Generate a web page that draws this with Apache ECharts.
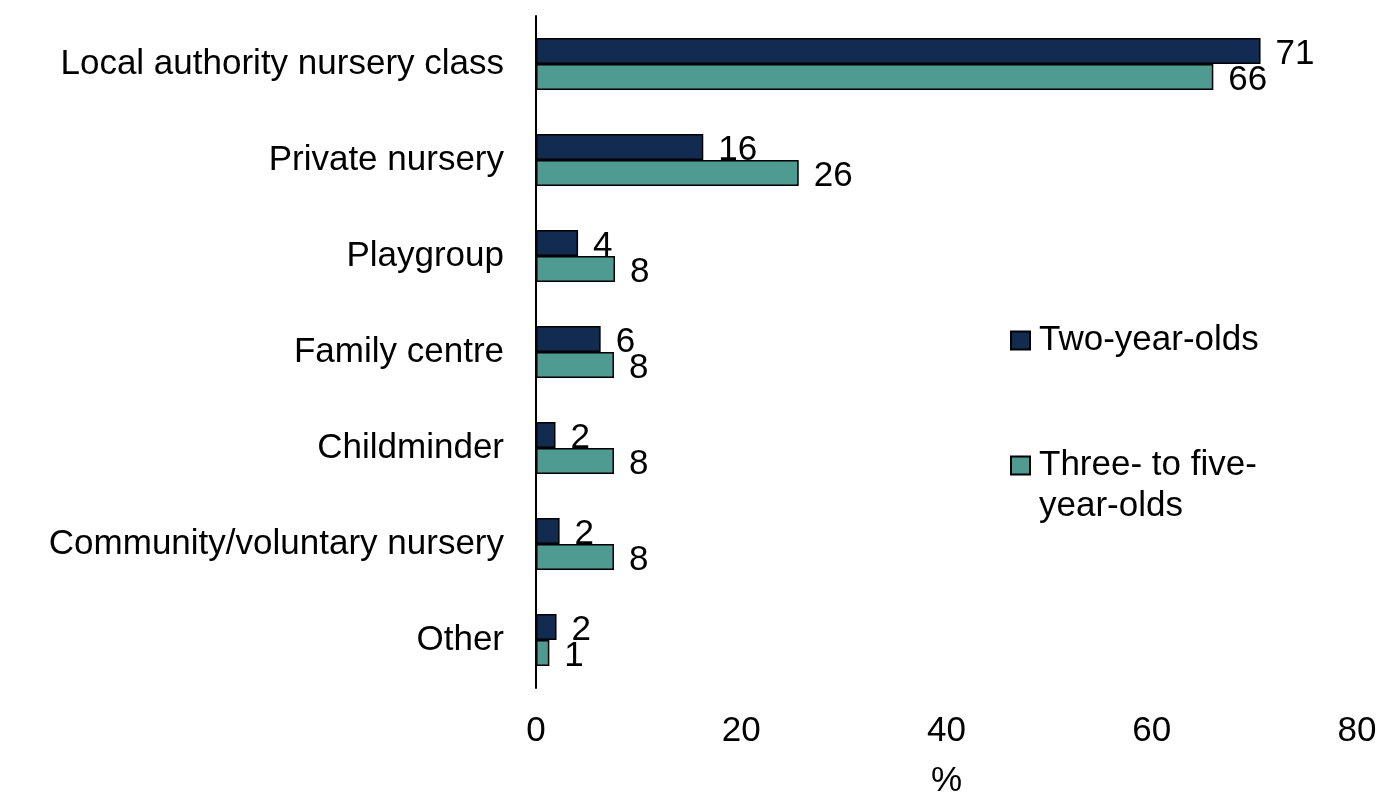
<!DOCTYPE html>
<html>
<head>
<meta charset="utf-8">
<script src="https://cdn.jsdelivr.net/npm/echarts@6/dist/echarts.min.js"></script>
<style>
html,body{margin:0;padding:0;background:#fff;}
#chart{width:1394px;height:812px;}
</style>
</head>
<body>
<div id="chart"></div>
<script>
var categories = ['Local authority nursery class','Private nursery','Playgroup','Family centre','Childminder','Community/voluntary nursery','Other'];
var twoYearOlds = [70.6, 16.3, 4.1, 6.3, 1.9, 2.3, 2.0];
var threeToFive = [66.0, 25.6, 7.7, 7.6, 7.6, 7.6, 1.3];
var seriesNames = ['Two-year-olds','Three- to five-year-olds'];
var xTicks = [0, 20, 40, 60, 80];

var FONT = '"Liberation Sans", Arial, sans-serif';
var FS = 35;

var chart = echarts.init(document.getElementById('chart'));
chart.setOption({
  animation: false,
  backgroundColor: '#ffffff',
  textStyle: {fontFamily: FONT},
  grid: {left: 536, right: 37, top: 16, bottom: 124, containLabel: false},
  legend: {
    orient: 'vertical',
    left: 1010,
    top: 320,
    padding: 0,
    itemWidth: 19,
    itemHeight: 18,
    itemGap: 43,
    icon: 'rect',
    textStyle: {fontFamily: FONT, fontSize: FS, color: '#000', lineHeight: 41, padding: [0,0,0,4]},
    formatter: function (n) { return n === seriesNames[1] ? '\nThree- to five-\nyear-olds' : n; },
    data: [seriesNames[0], seriesNames[1]]
  },
  xAxis: {
    type: 'value',
    min: xTicks[0],
    max: xTicks[xTicks.length - 1],
    interval: 20,
    name: '%',
    nameLocation: 'middle',
    nameGap: 76,
    nameTextStyle: {fontFamily: FONT, fontSize: FS, color: '#000'},
    axisLine: {show: false},
    axisTick: {show: false},
    splitLine: {show: false},
    axisLabel: {fontFamily: FONT, fontSize: FS, color: '#000', margin: 26}
  },
  yAxis: {
    type: 'category',
    data: categories,
    inverse: true,
    axisLine: {show: true, lineStyle: {color: '#000', width: 2}},
    axisTick: {show: false},
    axisLabel: {fontFamily: FONT, fontSize: FS, color: '#000', margin: 32, padding: [6,0,0,0]}
  },
  series: [
    {
      name: seriesNames[0],
      type: 'bar',
      data: twoYearOlds,
      barWidth: 26,
      barGap: '0%',
      itemStyle: {color: '#112C50', borderColor: '#000', borderWidth: 1.5},
      label: {show: true, position: 'right', distance: 15, offset: [0, 3], fontFamily: FONT, fontSize: FS, color: '#000',
        formatter: function (p) { return Math.round(p.value); }}
    },
    {
      name: seriesNames[1],
      type: 'bar',
      data: threeToFive,
      barWidth: 26,
      barGap: '0%',
      itemStyle: {color: '#4F9B92', borderColor: '#000', borderWidth: 1.5},
      label: {show: true, position: 'right', distance: 15, offset: [0, 3], fontFamily: FONT, fontSize: FS, color: '#000',
        formatter: function (p) { return Math.round(p.value); }}
    }
  ]
});
</script>
</body>
</html>
